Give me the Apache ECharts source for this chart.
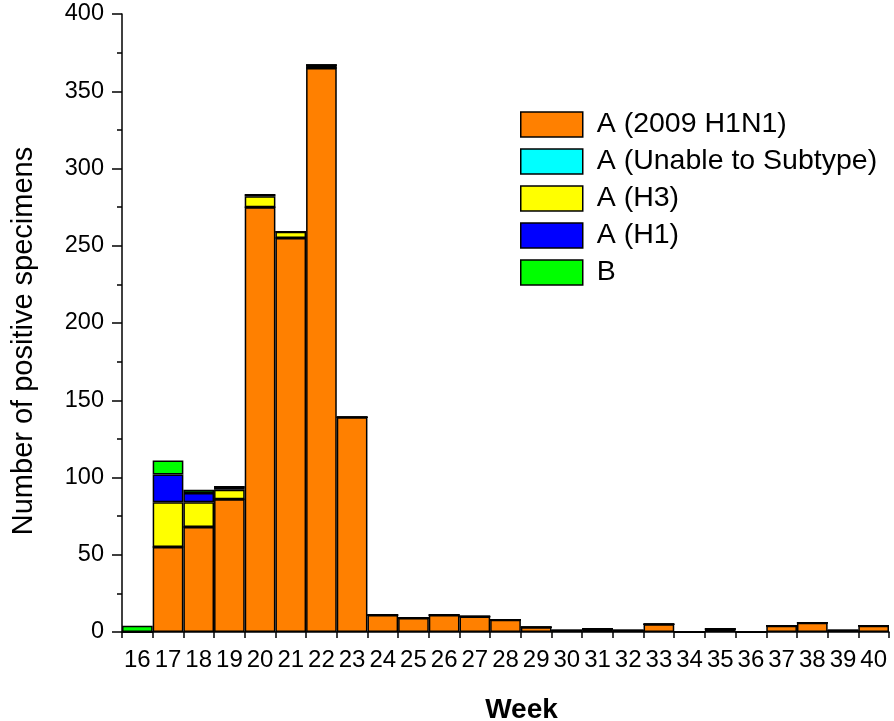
<!DOCTYPE html>
<html>
<head>
<meta charset="utf-8">
<script src="https://cdn.jsdelivr.net/npm/echarts@6/dist/echarts.min.js"></script>
<style>
html,body{margin:0;padding:0;background:#fff;}
#chart{width:894px;height:721px;}
</style>
</head>
<body>
<div id="chart"></div>
<script>
const weeks = ['16','17','18','19','20','21','22','23','24','25','26','27','28','29','30','31','32','33','34','35','36','37','38','39','40'];
const h1n1_2009 = [0,55,68,86,275,255,365,139,11,9,11,10,8,3,1,2,1,5,0,2,0,4,6,1,4];
const unableSubtype = [0,0,0,0,0,0,0,0,0,0,0,0,0,0,0,0,0,0,0,0,0,0,0,0,0];
const h3 = [0,29,16,6,7,4,2,0,0,0,0,0,0,0,0,0,0,0,0,0,0,0,0,0,0];
const h1 = [0,18,6,2,1,0,0,0,0,0,0,0,0,0,0,0,0,0,0,0,0,0,0,0,0];
const fluB = [4,9,2,0,0,0,0,0,0,0,0,0,0,0,0,0,0,0,0,0,0,0,0,0,0];
const seriesNames = ['A (2009 H1N1)','A (Unable to Subtype)','A (H3)','A (H1)','B'];
const seriesColors = ['#FF8000','#00FFFF','#FFFF00','#0000FF','#00FF00'];
const seriesData = [h1n1_2009, unableSubtype, h3, h1, fluB];

const FONT = '"Liberation Sans", Arial, Helvetica, sans-serif';
const chart = echarts.init(document.getElementById('chart'), null, {renderer:'canvas'});
chart.setOption({
  animation:false,
  backgroundColor:'#fff',
  textStyle:{fontFamily:FONT, color:'#000'},
  grid:{left:122, right:5, top:14, bottom:89, containLabel:false, outerBoundsMode:'none'},
  legend:{
    orient:'vertical', left:520, top:110, padding:0,
    itemWidth:62, itemHeight:25, itemGap:8,
    icon:'rect',
    data:seriesNames,
    textStyle:{fontFamily:FONT, fontSize:28.5, color:'#000', padding:[0,0,0,9]},
    itemStyle:{borderColor:'#000', borderWidth:1.5}
  },
  xAxis:{
    type:'category', data:weeks, boundaryGap:true,
    name:'Week', nameLocation:'middle', nameGap:64,
    nameTextStyle:{fontFamily:FONT, fontSize:28, fontWeight:'bold', color:'#000', padding:[0,0,0,32]},
    axisLine:{show:true, lineStyle:{color:'#000', width:1.5}},
    axisTick:{show:true, inside:false, length:6, interval:0, lineStyle:{color:'#000', width:1.5}},
    axisLabel:{interval:0, fontSize:24, color:'#000', margin:16, fontFamily:FONT},
    splitLine:{show:false}
  },
  yAxis:{
    type:'value', min:0, max:400, interval:50,
    name:'Number of positive specimens', nameLocation:'middle', nameGap:84,
    nameTextStyle:{fontFamily:FONT, fontSize:29, color:'#000', padding:[0,36,0,0]},
    axisLine:{show:true, lineStyle:{color:'#000', width:1.5}},
    axisTick:{show:true, inside:false, length:10, lineStyle:{color:'#000', width:1.5}},
    minorTick:{show:true, splitNumber:2, length:5, lineStyle:{color:'#000', width:1.5}},
    axisLabel:{fontSize:23.5, color:'#000', margin:18, fontFamily:FONT},
    splitLine:{show:false}
  },
  series: seriesNames.map((n,i)=>({
    name:n, type:'bar', stack:'total', data:seriesData[i],
    barWidth:'100%', barCategoryGap:'0%',
    itemStyle:{color:seriesColors[i], borderColor:'#000', borderWidth:1.5},
    emphasis:{disabled:true}
  }))
});
</script>
</body>
</html>
